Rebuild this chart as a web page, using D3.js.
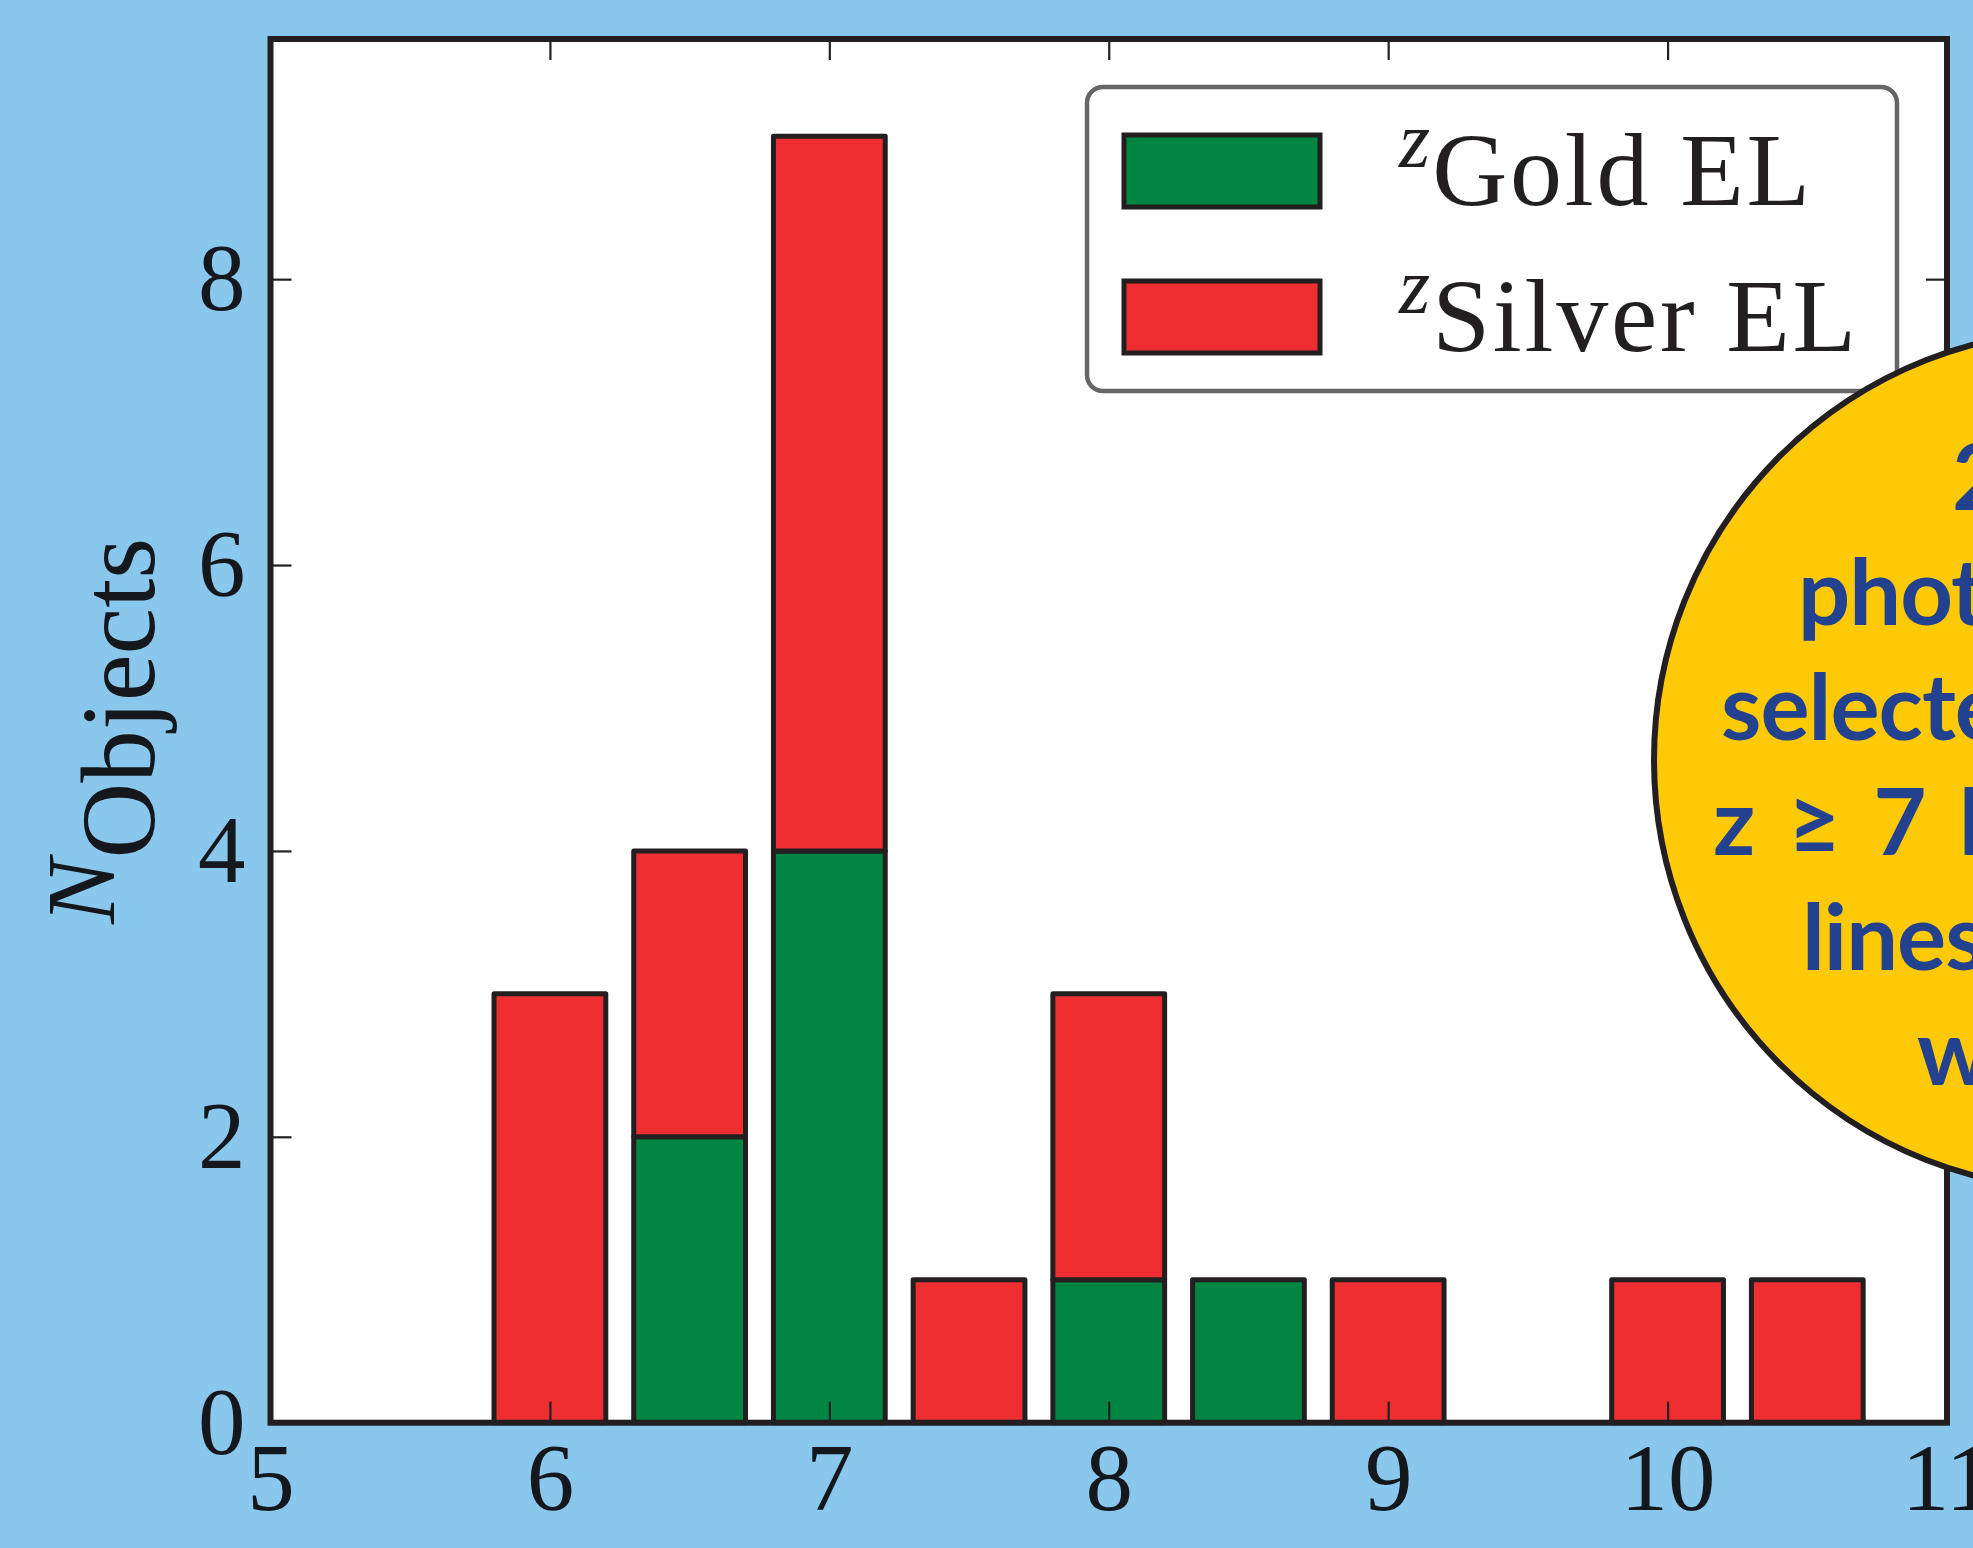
<!DOCTYPE html>
<html>
<head>
<meta charset="utf-8">
<script src="https://cdn.jsdelivr.net/npm/d3@7"></script>
<style>
  html, body { margin: 0; padding: 0; background: #89C8EC; }
  svg { display: block; }
</style>
</head>
<body>
<svg id="chart" width="1973" height="1548"></svg>
<script>
// ---- data ----
const binCenters   = [6, 6.5, 7, 7.5, 8, 8.5, 9, 9.5, 10, 10.5];
const goldCounts   = [0, 2, 4, 0, 1, 1, 0, 0, 0, 0];
const silverCounts = [3, 2, 5, 1, 2, 0, 1, 0, 1, 1];
const seriesNames  = ["Gold", "Silver"];
const legendLabels = ["Gold EL", "Silver EL"];
const xTicks = [5, 6, 7, 8, 9, 10, 11];
const yTicks = [0, 2, 4, 6, 8];
const binWidth = 0.4;
const circleLines = ["20", "photometric", "selected at", "z \u2265 7 have", "lines with", "with HST"];

// ---- layout ----
const W = 1973, H = 1548;
const plot = { left: 270.5, right: 1947, top: 39, bottom: 1422.7 };
const ink = "#231f20";
const colors = { Gold: "#008542", Silver: "#EE2E31" };

const svg = d3.select("#chart");
svg.append("rect").attr("width", W).attr("height", H).attr("fill", "#89C8EC");

const x = d3.scaleLinear().domain([5, 11]).range([plot.left, plot.right]);
const y = d3.scaleLinear().domain([0, 9.68]).range([plot.bottom, plot.top]);

// plot background
svg.append("rect")
  .attr("x", plot.left).attr("y", plot.top)
  .attr("width", plot.right - plot.left).attr("height", plot.bottom - plot.top)
  .attr("fill", "#ffffff");

// stacked bars
const table = binCenters.map((c, i) => ({ center: c, Gold: goldCounts[i], Silver: silverCounts[i] }));
const stacked = d3.stack().keys(seriesNames)(table);

stacked.forEach(layer => {
  svg.append("g")
    .selectAll("rect")
    .data(layer.filter(d => d[1] - d[0] > 0))
    .join("rect")
    .attr("x", d => x(d.data.center - binWidth / 2))
    .attr("width", d => x(d.data.center + binWidth / 2) - x(d.data.center - binWidth / 2))
    .attr("y", d => y(d[1]))
    .attr("height", d => y(d[0]) - y(d[1]))
    .attr("fill", colors[layer.key])
    .attr("stroke", ink)
    .attr("stroke-width", 5)
    .attr("stroke-linejoin", "round");
});

// axes (inward ticks)
const tickLen = 21;
function styleAxis(g) {
  g.select(".domain").remove();
  g.selectAll(".tick line").attr("stroke", ink).attr("stroke-width", 2.2);
  g.selectAll(".tick text")
    .attr("fill", "#14171c")
    .attr("font-family", "'Liberation Serif', 'DejaVu Serif', serif")
    .attr("font-size", 95);
}
svg.append("g").attr("transform", `translate(0,${plot.bottom})`)
  .call(d3.axisBottom(x).tickValues(xTicks).tickSize(-tickLen).tickPadding(20).tickFormat(d3.format("d")))
  .call(styleAxis);
svg.append("g").attr("transform", `translate(0,${plot.top})`)
  .call(d3.axisTop(x).tickValues(xTicks).tickSize(-tickLen).tickFormat(""))
  .call(styleAxis);
svg.append("g").attr("transform", `translate(${plot.left},0)`)
  .call(d3.axisLeft(y).tickValues(yTicks).tickSize(-tickLen).tickPadding(25).tickFormat(d3.format("d")))
  .call(styleAxis);
svg.append("g").attr("transform", `translate(${plot.right},0)`)
  .call(d3.axisRight(y).tickValues(yTicks).tickSize(-tickLen).tickFormat(""))
  .call(styleAxis);

// frame
svg.append("rect")
  .attr("x", plot.left).attr("y", plot.top)
  .attr("width", plot.right - plot.left).attr("height", plot.bottom - plot.top)
  .attr("fill", "none").attr("stroke", ink).attr("stroke-width", 6);

// axis labels
svg.append("text")
  .attr("x", (plot.left + plot.right) / 2 - 8).attr("y", 1594)
  .attr("text-anchor", "middle")
  .attr("font-family", "'Liberation Serif', serif").attr("font-style", "italic")
  .attr("font-size", 100).attr("fill", "#14171c")
  .text("z");

const ylab = svg.append("text")
  .attr("transform", `translate(114,${(plot.top + plot.bottom) / 2}) rotate(-90)`)
  .attr("text-anchor", "middle")
  .attr("font-family", "'Liberation Serif', serif")
  .attr("fill", "#14171c");
ylab.append("tspan").attr("font-style", "italic").attr("font-size", 98).text("N");
ylab.append("tspan").attr("font-size", 105).attr("dy", 40).text("Objects");

// legend
const lg = svg.append("g");
lg.append("rect")
  .attr("x", 1087).attr("y", 87).attr("width", 810).attr("height", 304)
  .attr("rx", 16).attr("ry", 16)
  .attr("fill", "#ffffff").attr("stroke", "#666666").attr("stroke-width", 4.5);
const legendRowsY = [135, 281];
seriesNames.forEach((k, i) => {
  const yy = legendRowsY[i];
  lg.append("rect")
    .attr("x", 1124).attr("y", yy).attr("width", 196).attr("height", 72)
    .attr("fill", colors[k]).attr("stroke", ink).attr("stroke-width", 5);
  const t = lg.append("text")
    .attr("x", 1399).attr("y", yy + 70)
    .attr("font-family", "'Liberation Serif', serif")
    .attr("fill", ink);
  t.append("tspan").attr("font-style", "italic").attr("font-size", 80).attr("dy", -38).text("z");
  t.append("tspan").attr("font-size", 104).attr("dy", 38).attr("dx", 2)
    .attr("letter-spacing", 2.8).text(legendLabels[i]);
});

// annotation circle
const cx = 2084, cy = 760, r = 430;
svg.append("circle")
  .attr("cx", cx).attr("cy", cy).attr("r", r)
  .attr("fill", "#FEC907").attr("stroke", ink).attr("stroke-width", 6);
const lineStarts = [1952, 1798, 1721, 1713, 1802, 1917];
const baseline0 = 510, lineGap = 115;
svg.append("g").selectAll("text")
  .data(circleLines)
  .join("text")
  .attr("x", (d, i) => lineStarts[i])
  .attr("y", (d, i) => baseline0 + i * lineGap)
  .attr("font-family", "Lato, 'Open Sans', sans-serif")
  .attr("font-weight", 700)
  .attr("font-size", 92)
  .attr("letter-spacing", -1)
  .attr("word-spacing", 12)
  .attr("fill", "#22418F")
  .text(d => d);
</script>
</body>
</html>
